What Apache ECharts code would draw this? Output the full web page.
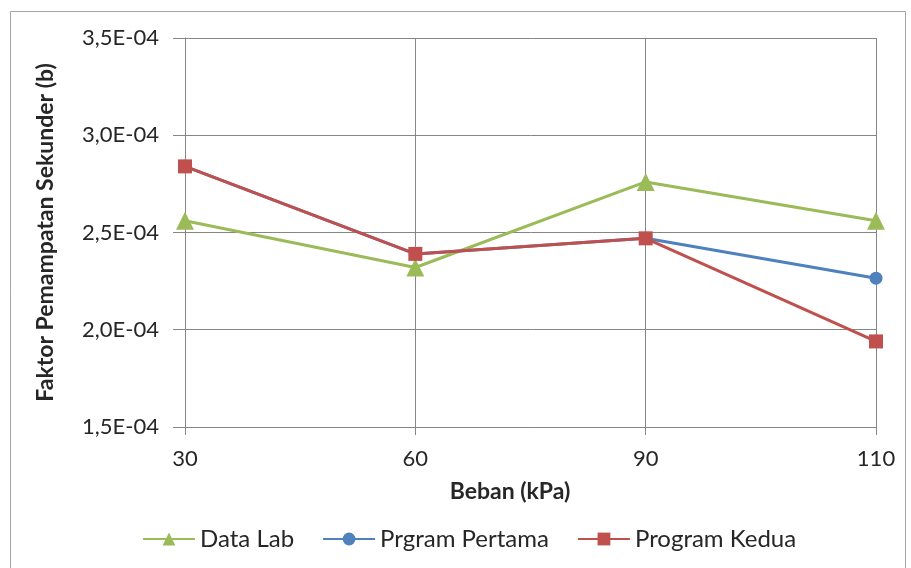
<!DOCTYPE html>
<html>
<head>
<meta charset="utf-8">
<script src="https://cdn.jsdelivr.net/npm/echarts@6/dist/echarts.min.js"></script>
<style>
html,body{margin:0;padding:0;background:#fff;}
#chart{width:911px;height:568px;}
</style>
</head>
<body>
<div id="chart"></div>
<script>
var categories = ['30', '60', '90', '110'];
var dataLab = [2.56e-4, 2.32e-4, 2.76e-4, 2.56e-4];
var programPertama = [2.84e-4, 2.39e-4, 2.47e-4, 2.265e-4];
var programKedua = [2.84e-4, 2.39e-4, 2.47e-4, 1.94e-4];
var seriesNames = ['Data Lab', 'Prgram Pertama', 'Program Kedua'];
var xTitle = 'Beban (kPa)';
var yTitle = 'Faktor Pemampatan Sekunder (b)';

var FONT = 'Lato';

function fmtExp(v) {
  var s = v.toExponential(1);
  var parts = s.split('e');
  var mant = parts[0].replace('.', ',');
  var ex = parseInt(parts[1], 10);
  var sign = ex < 0 ? '-' : '+';
  var abs = Math.abs(ex);
  return mant + 'E' + sign + (abs < 10 ? '0' + abs : abs);
}

var chart = echarts.init(document.getElementById('chart'));
chart.setOption({
  animation: false,
  backgroundColor: '#ffffff',
  textStyle: { fontFamily: FONT },
  graphic: [
    {
      type: 'rect',
      shape: { x: 10.5, y: 11.5, width: 895, height: 560 },
      style: { fill: 'none', stroke: '#a6a6a6', lineWidth: 1 },
      silent: true
    },
    {
      type: 'text',
      x: 510, y: 492,
      style: {
        text: xTitle,
        font: 'bold 23px ' + FONT,
        fill: '#262626',
        align: 'center',
        verticalAlign: 'middle'
      }
    }
  ],
  legend: {
    left: 137,
    top: 522,
    itemWidth: 52,
    itemHeight: 16,
    itemGap: 28,
    textStyle: { fontSize: 24, color: '#262626', fontFamily: FONT },
    data: seriesNames
  },
  grid: { left: 185, right: 35, top: 38, bottom: 141 },
  xAxis: {
    type: 'category',
    data: categories,
    boundaryGap: false,
    axisLine: { show: true, lineStyle: { color: '#868686', width: 1 } },
    axisTick: { show: true, length: 8, alignWithLabel: true, lineStyle: { color: '#868686' } },
    axisLabel: { fontSize: 22, color: '#262626', margin: 21, fontFamily: FONT },
    splitLine: { show: true, lineStyle: { color: '#868686', width: 1 } }
  },
  yAxis: {
    type: 'value',
    min: 1.5e-4,
    max: 3.5e-4,
    interval: 0.5e-4,
    name: yTitle,
    nameLocation: 'middle',
    nameGap: 128,
    nameTextStyle: { fontSize: 23, fontWeight: 'bold', color: '#262626', fontFamily: FONT },
    axisLine: { show: true, lineStyle: { color: '#868686', width: 1 } },
    axisTick: { show: true, length: 12, lineStyle: { color: '#868686' } },
    axisLabel: { fontSize: 22, color: '#262626', margin: 26, formatter: fmtExp, fontFamily: FONT },
    splitLine: { show: true, lineStyle: { color: '#868686', width: 1 } }
  },
  series: [
    {
      name: seriesNames[0],
      type: 'line',
      data: dataLab,
      symbol: 'triangle',
      symbolSize: 18,
      itemStyle: { color: '#9BBB59' },
      lineStyle: { color: '#9BBB59', width: 3 },
      z: 2
    },
    {
      name: seriesNames[1],
      type: 'line',
      data: programPertama,
      symbol: 'circle',
      symbolSize: 13,
      itemStyle: { color: '#4F81BD' },
      lineStyle: { color: '#4F81BD', width: 3 },
      z: 3
    },
    {
      name: seriesNames[2],
      type: 'line',
      data: programKedua,
      symbol: 'rect',
      symbolSize: 14,
      itemStyle: { color: '#C0504D' },
      lineStyle: { color: '#C0504D', width: 3 },
      z: 4
    }
  ]
});
</script>
</body>
</html>
